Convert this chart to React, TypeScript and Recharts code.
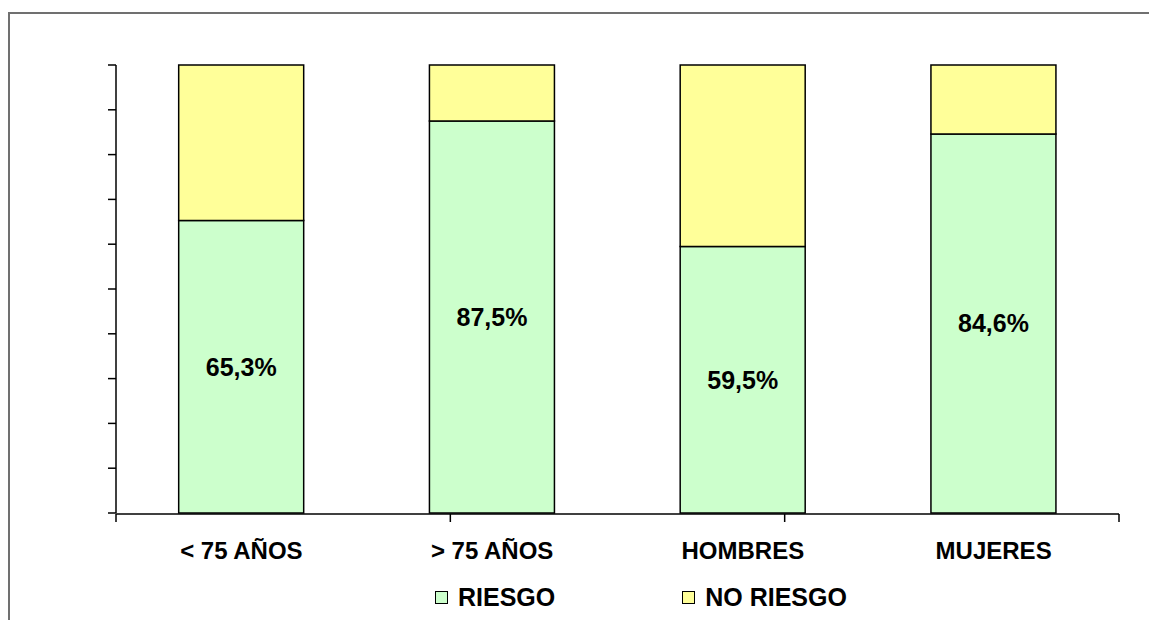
import { Bar, BarChart, LabelList, Legend, XAxis, YAxis } from "recharts";

const categories = ["< 75 AÑOS", "> 75 AÑOS", "HOMBRES", "MUJERES"];
const riesgo = [65.3, 87.5, 59.5, 84.6];
const noRiesgo = [34.7, 12.5, 40.5, 15.4];
const yTicks = [0, 10, 20, 30, 40, 50, 60, 70, 80, 90, 100];
const edgeTicks = [0, 1, 2, 3, 4];

const seriesNames = { riesgo: "RIESGO", noRiesgo: "NO RIESGO" };
const colors = { riesgo: "#CCFFCC", noRiesgo: "#FFFF99" };

const data = categories.map((cat, i) => ({
  cat,
  riesgo: riesgo[i],
  noRiesgo: noRiesgo[i],
}));

const FONT = "'Liberation Sans', Arial, sans-serif";

const formatPct = (v: number) => `${v.toFixed(1).replace(".", ",")}%`;

const LegendContent = () => (
  <div style={{ display: "flex", fontFamily: FONT, fontWeight: "bold", fontSize: 25, color: "#000" }}>
    {(["riesgo", "noRiesgo"] as const).map((key, i) => (
      <div
        key={key}
        style={{ display: "flex", alignItems: "center", marginRight: i === 0 ? 127 : 0 }}
      >
        <span
          style={{
            display: "inline-block",
            width: 11,
            height: 11,
            background: colors[key],
            border: "1.5px solid #000",
            marginRight: 10,
          }}
        />
        <span>{seriesNames[key]}</span>
      </div>
    ))}
  </div>
);

export default function App() {
  return (
    <div style={{ position: "fixed", left: 0, top: 0, width: 1149, height: 620, overflow: "hidden", background: "#fff" }}>
      <div
        style={{
          position: "absolute",
          left: 8,
          top: 12,
          width: 1300,
          height: 800,
          borderLeft: "2px solid #707070",
          borderTop: "2px solid #707070",
        }}
      />
      <div style={{ position: "absolute", left: 0, top: 0 }}>
        <BarChart
          width={1149}
          height={620}
          data={data}
          margin={{ top: 65, right: 30, left: 115, bottom: 105 }}
          barCategoryGap="25%"
        >
          <XAxis
            xAxisId="cat"
            dataKey="cat"
            height={1}
            axisLine={false}
            tickLine={false}
            tickSize={0}
            tickMargin={29}
            interval={0}
            tick={{ fill: "#000", fontSize: 24, fontWeight: "bold", fontFamily: FONT }}
          />
          <XAxis
            xAxisId="edges"
            type="number"
            domain={[0, 4]}
            ticks={edgeTicks}
            height={1}
            axisLine={{ stroke: "#000", strokeWidth: 1.5 }}
            tickLine={{ stroke: "#000", strokeWidth: 1.5 }}
            tickSize={8}
            tickFormatter={() => ""}
          />
          <YAxis
            width={1}
            domain={[0, 100]}
            ticks={yTicks}
            axisLine={{ stroke: "#000", strokeWidth: 1.5 }}
            tickLine={{ stroke: "#000", strokeWidth: 1.5 }}
            tickSize={8}
            tickFormatter={() => ""}
          />
          <Legend
            verticalAlign="middle"
            content={<LegendContent />}
            wrapperStyle={{ position: "absolute", left: 435, top: 583, width: "auto" }}
          />
          <Bar
            xAxisId="cat"
            dataKey="riesgo"
            stackId="a"
            fill={colors.riesgo}
            stroke="#000"
            strokeWidth={1.5}
            isAnimationActive={false}
          >
            <LabelList
              dataKey="riesgo"
              position="center"
              formatter={(v: number) => formatPct(v)}
              style={{ fill: "#000", fontSize: 25, fontWeight: "bold", fontFamily: FONT }}
            />
          </Bar>
          <Bar
            xAxisId="cat"
            dataKey="noRiesgo"
            stackId="a"
            fill={colors.noRiesgo}
            stroke="#000"
            strokeWidth={1.5}
            isAnimationActive={false}
          />
        </BarChart>
      </div>
    </div>
  );
}
